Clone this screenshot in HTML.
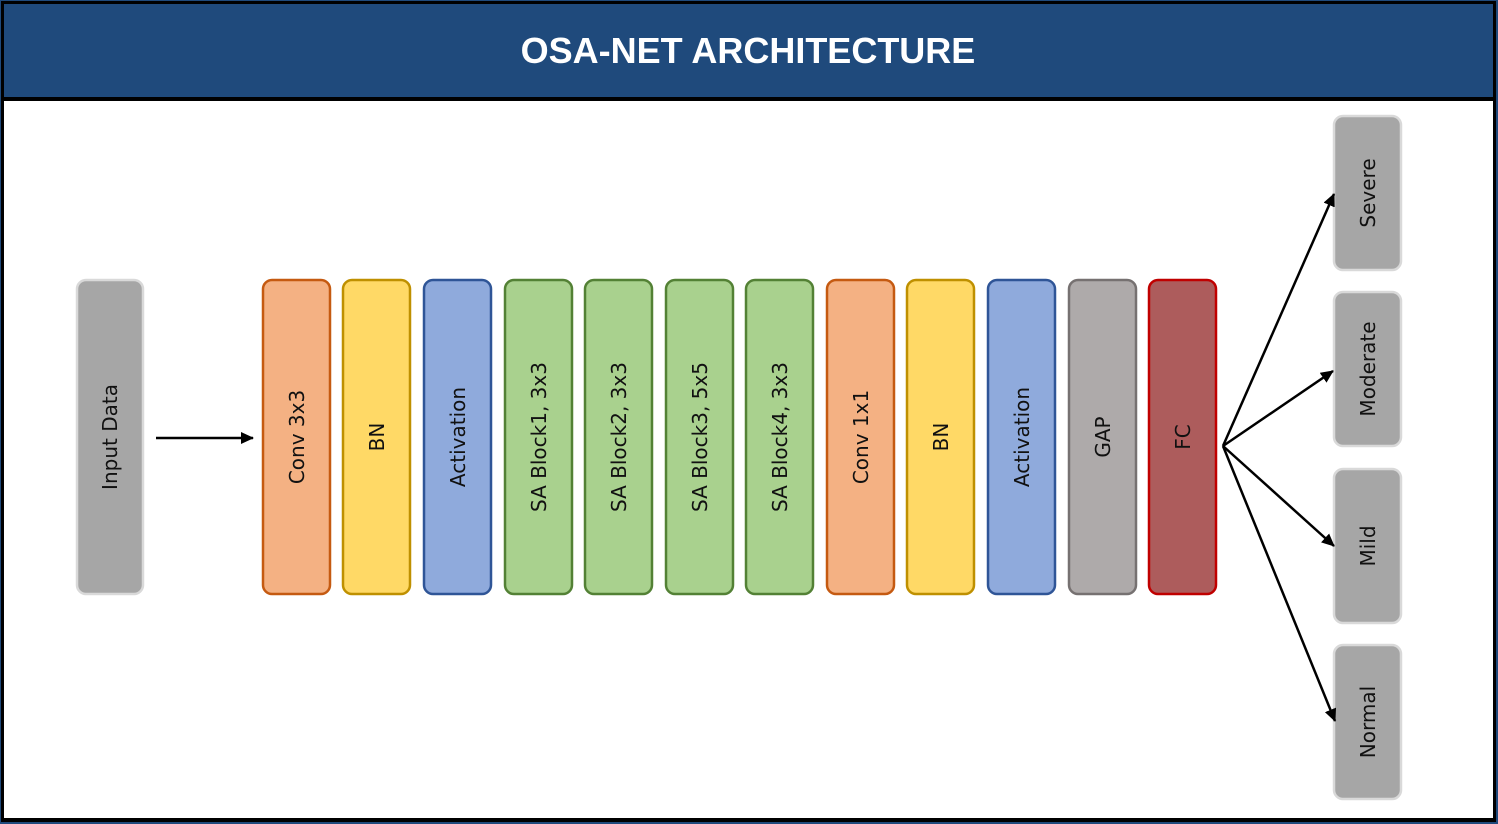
<!DOCTYPE html>
<html><head><meta charset="utf-8"><style>
html,body{margin:0;padding:0;background:#fff;}
svg{display:block;}
</style></head><body>
<svg width="1498" height="824" viewBox="0 0 1498 824" xmlns="http://www.w3.org/2000/svg">
<rect x="0" y="0" width="1498" height="824" fill="#1F4A7C"/>
<rect x="1" y="1" width="1495" height="821" fill="#000"/>
<rect x="4" y="4" width="1489" height="93" fill="#1F4A7C"/>
<rect x="4" y="101" width="1489" height="717" fill="#fff"/>
<text x="748" y="63" text-anchor="middle" fill="#fff" style="font-family:'Liberation Sans',sans-serif;font-weight:bold;font-size:36px">OSA-NET ARCHITECTURE</text>
<defs><marker id="ah" markerWidth="13" markerHeight="12" refX="12" refY="6" orient="auto" markerUnits="userSpaceOnUse"><path d="M0,0 L13,6 L0,12 Z" fill="#000"/></marker></defs>
<g stroke-width="2.5">
<rect x="77" y="280" width="66" height="314" rx="9" fill="#A6A6A6" stroke="#D9D9D9"/>
<rect x="263" y="280" width="67" height="314" rx="9" fill="#F4B183" stroke="#C55A11"/>
<rect x="343" y="280" width="67" height="314" rx="9" fill="#FFD966" stroke="#BF9000"/>
<rect x="424" y="280" width="67" height="314" rx="9" fill="#8FAADC" stroke="#2F5597"/>
<rect x="505" y="280" width="67" height="314" rx="9" fill="#A9D18E" stroke="#538135"/>
<rect x="585" y="280" width="67" height="314" rx="9" fill="#A9D18E" stroke="#538135"/>
<rect x="666" y="280" width="67" height="314" rx="9" fill="#A9D18E" stroke="#538135"/>
<rect x="746" y="280" width="67" height="314" rx="9" fill="#A9D18E" stroke="#538135"/>
<rect x="827" y="280" width="67" height="314" rx="9" fill="#F4B183" stroke="#C55A11"/>
<rect x="907" y="280" width="67" height="314" rx="9" fill="#FFD966" stroke="#BF9000"/>
<rect x="988" y="280" width="67" height="314" rx="9" fill="#8FAADC" stroke="#2F5597"/>
<rect x="1069" y="280" width="67" height="314" rx="9" fill="#AEAAAA" stroke="#767171"/>
<rect x="1149" y="280" width="67" height="314" rx="9" fill="#AD5C5C" stroke="#C00000"/>
<rect x="1334" y="116" width="67" height="154" rx="9" fill="#A6A6A6" stroke="#D9D9D9"/>
<rect x="1334" y="292" width="67" height="154" rx="9" fill="#A6A6A6" stroke="#D9D9D9"/>
<rect x="1334" y="469" width="67" height="154" rx="9" fill="#A6A6A6" stroke="#D9D9D9"/>
<rect x="1334" y="645" width="67" height="154" rx="9" fill="#A6A6A6" stroke="#D9D9D9"/>
</g>
<g style="font-family:'DejaVu Sans',sans-serif;font-size:20px" fill="#111" text-anchor="middle">
<text transform="translate(117,437) rotate(-90)">Input Data</text>
<text transform="translate(304,437) rotate(-90)">Conv 3x3</text>
<text transform="translate(384,437) rotate(-90)">BN</text>
<text transform="translate(465,437) rotate(-90)">Activation</text>
<text transform="translate(546,437) rotate(-90)">SA Block1, 3x3</text>
<text transform="translate(626,437) rotate(-90)">SA Block2, 3x3</text>
<text transform="translate(707,437) rotate(-90)">SA Block3, 5x5</text>
<text transform="translate(787,437) rotate(-90)">SA Block4, 3x3</text>
<text transform="translate(868,437) rotate(-90)">Conv 1x1</text>
<text transform="translate(948,437) rotate(-90)">BN</text>
<text transform="translate(1029,437) rotate(-90)">Activation</text>
<text transform="translate(1110,437) rotate(-90)">GAP</text>
<text transform="translate(1190,437) rotate(-90)">FC</text>
<text transform="translate(1375,193) rotate(-90)">Severe</text>
<text transform="translate(1375,369) rotate(-90)">Moderate</text>
<text transform="translate(1375,546) rotate(-90)">Mild</text>
<text transform="translate(1375,722) rotate(-90)">Normal</text>
</g>
<g stroke="#000" stroke-width="2.5" fill="none" marker-end="url(#ah)">
<line x1="156" y1="438" x2="253" y2="438"/>
<line x1="1223" y1="446" x2="1334" y2="194"/>
<line x1="1223" y1="446" x2="1333" y2="371"/>
<line x1="1223" y1="446" x2="1334" y2="546"/>
<line x1="1223" y1="446" x2="1335" y2="721"/>
</g>
</svg>
</body></html>
